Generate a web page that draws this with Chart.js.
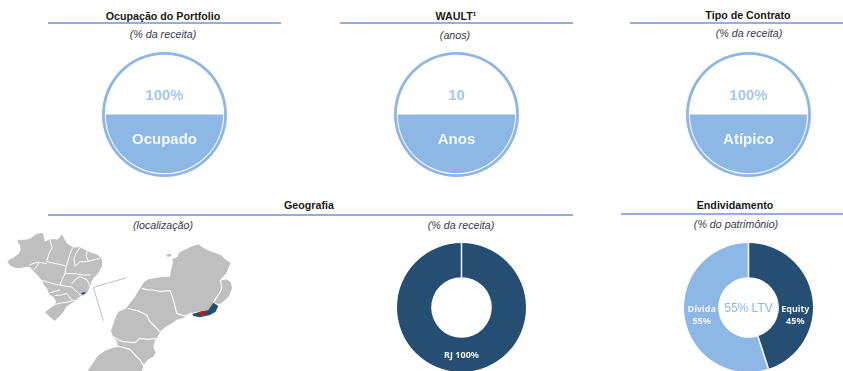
<!DOCTYPE html>
<html lang="pt-BR">
<head>
<meta charset="utf-8">
<title>Portfolio</title>
<script src="https://cdn.jsdelivr.net/npm/chart.js@4"></script>
<style>
html, body { margin: 0; padding: 0; background: #fff; }
body { position: relative; width: 843px; height: 371px; overflow: hidden; font-family: "Liberation Sans", Arial, sans-serif; filter: blur(0.35px); }
.title, .sub { position: absolute; transform: translate(-50%, -50%); white-space: nowrap; }
.title { font-size: 10.7px; font-weight: bold; color: #1a1a1a; }
.sub { font-size: 10.7px; font-style: italic; color: #3a3a48; }
.rule { position: absolute; height: 1.5px; background: #96aede; }
canvas { position: absolute; }
svg { position: absolute; left: 0; top: 0; }
</style>
</head>
<body>
<div class="title" style="left:163px;top:15.5px">Ocupação do Portfolio</div>
<div class="title" style="left:456px;top:15.5px">WAULT¹</div>
<div class="title" style="left:748px;top:14.5px">Tipo de Contrato</div>
<div class="title" style="left:309px;top:205px">Geografia</div>
<div class="title" style="left:735px;top:205px">Endividamento</div>

<div class="rule" style="left:48px;width:233px;top:22px"></div>
<div class="rule" style="left:340px;width:233px;top:22px"></div>
<div class="rule" style="left:630px;width:213px;top:22px"></div>
<div class="rule" style="left:48px;width:525px;top:214px"></div>
<div class="rule" style="left:621px;width:222px;top:213px"></div>

<div class="sub" style="left:163px;top:33.5px">(% da receita)</div>
<div class="sub" style="left:455px;top:34.5px">(anos)</div>
<div class="sub" style="left:749px;top:33px">(% da receita)</div>
<div class="sub" style="left:163px;top:224.5px">(localização)</div>
<div class="sub" style="left:461px;top:224.5px">(% da receita)</div>
<div class="sub" style="left:736px;top:223.5px">(% do patrimônio)</div>

<!-- brazil map, traced by eye -->
<svg width="843" height="371">
  <g transform="translate(0,225) scale(0.3333)">
    <polygon fill="#bfbfbf" points="22,112 28,104 40,98 48,92 56,86 62,74 60,60 52,50 56,44 72,44 88,42 100,34 112,26 128,24 132,36 134,50 146,44 160,42 172,44 180,36 186,28 192,40 200,54 212,62 222,68 238,66 250,72 262,78 276,84 290,88 300,96 306,106 306,122 300,136 290,150 280,160 274,172 270,186 262,202 250,210 238,216 228,226 212,236 200,244 194,254 186,266 174,278 164,288 150,276 135,262 150,250 165,240 168,228 160,216 146,208 142,192 132,180 125,166 112,150 100,138 90,126 76,126 60,130 46,128 32,122"/>
    <g fill="none" stroke="#fff" stroke-width="3" stroke-linejoin="round">
      <polyline points="88,120 104,114 118,112 140,116"/>
      <polyline points="150,44 156,68 146,88 140,110 168,116 195,122"/>
      <polyline points="218,68 210,86 205,104 198,126 195,146 186,164 180,180 160,176 145,172 125,166"/>
      <polyline points="100,136 110,124 118,112"/>
      <polyline points="225,124 240,110 262,110 282,104 300,100"/>
      <polyline points="262,78 258,92 265,108"/>
      <polyline points="240,68 228,84 222,100 225,124"/>
      <polyline points="195,146 225,146 250,150 272,150"/>
      <polyline points="215,176 228,162 240,155 262,165 270,185"/>
      <polyline points="180,180 198,184 215,186 228,198 240,210"/>
      <polyline points="145,205 162,200 180,195"/>
      <polyline points="165,212 184,210 200,205 215,225"/>
      <polyline points="165,238 184,234 200,232 225,225"/>
      <polyline points="240,210 258,205"/>
    </g>
    <polygon fill="#264e73" points="243,205 255,200 257,206 246,210"/>
  </g>
  <g transform="translate(85,240) scale(0.3333)">
    <polyline fill="none" stroke="#c0c0c0" stroke-width="3" points="125,113 25,142 55,242"/>
    <polygon fill="#bfbfbf" points="8,393 22,372 38,348 60,332 80,325 98,320 96,305 84,290 78,272 84,255 92,232 100,215 122,206 135,190 150,170 165,145 178,125 190,118 225,112 255,110 258,90 264,68 262,58 278,50 282,38 298,30 318,20 340,13 352,22 372,32 390,38 408,46 424,60 437,68 430,85 424,100 410,115 405,122 425,118 438,128 441,145 432,168 418,182 404,192 388,190 372,210 350,214 330,216 312,224 295,234 275,240 258,252 240,262 226,274 218,290 210,302 205,320 212,338 205,350 190,358 178,372 170,393"/>
    <polygon fill="#bfbfbf" points="245,43 257,41 259,49 247,50"/>
    <g fill="none" stroke="#fff" stroke-width="3.5" stroke-linejoin="round">
      <polyline points="170,145 190,150 205,150 225,155 255,152 262,170 268,190 272,208 275,220 300,228 320,218"/>
      <polyline points="405,120 410,135 408,152 396,170 385,188"/>
      <polyline points="128,205 160,213 185,225 195,245 205,255 225,275"/>
      <polyline points="85,290 100,300 115,305 150,308 165,295 190,298 215,295"/>
      <polyline points="95,318 115,322 135,328 150,345 165,360 178,380"/>
    </g>
    <polygon fill="#264e73" points="322,222 345,215 370,210 385,188 400,198 392,215 375,225 345,232 325,228"/>
    <circle cx="352" cy="220" r="7" fill="#f00"/>
  </g>
</svg>

<canvas id="gaugeOcupacao" width="125" height="125" style="left:102px;top:52px"></canvas>
<canvas id="gaugeWault" width="125" height="125" style="left:394px;top:52px"></canvas>
<canvas id="gaugeContrato" width="125" height="125" style="left:686px;top:52px"></canvas>
<canvas id="donutGeografia" width="129" height="129" style="left:397px;top:242.5px"></canvas>
<canvas id="donutDivida" width="129" height="129" style="left:684px;top:242.5px"></canvas>

<script>
const lightBlue = '#8db8e6';
const darkBlue = '#264e73';

const gaugeIds = ['gaugeOcupacao', 'gaugeWault', 'gaugeContrato'];
const gaugeValues = [100, 10, 100];
const gaugeTexts = ['100%', '10', '100%'];
const gaugeNames = ['Ocupado', 'Anos', 'Atípico'];

const geoLabels = ['RJ'];
const geoValues = [100];

const debtLabels = ['Equity', 'Dívida'];
const debtValues = [45, 55];
const debtCenter = '55% LTV';

// circle with the lower half filled in, text on both halves
const gaugePlugin = {
    id: 'gaugeFill',
    afterDatasetsDraw(chart, args, opts) {
        const arc = chart.getDatasetMeta(0).data[0];
        const ctx = chart.ctx;
        ctx.save();
        ctx.beginPath();
        ctx.arc(arc.x, arc.y, arc.innerRadius - 1, 0, Math.PI);
        ctx.closePath();
        ctx.fillStyle = lightBlue;
        ctx.fill();
        ctx.textAlign = 'center';
        ctx.textBaseline = 'middle';
        ctx.font = 'bold 15px "Liberation Sans"';
        ctx.fillStyle = '#a6c8ec';
        ctx.fillText(opts.text, arc.x, arc.y - 19);
        ctx.fillStyle = '#f4f8fc';
        ctx.fillText(opts.name, arc.x, arc.y + 25);
        ctx.restore();
    }
};

// white seam at the start of every slice
const seamPlugin = {
    id: 'seams',
    afterDatasetsDraw(chart) {
        const ctx = chart.ctx;
        ctx.save();
        ctx.strokeStyle = '#fff';
        ctx.lineWidth = 1.5;
        chart.getDatasetMeta(0).data.forEach(arc => {
            ctx.beginPath();
            ctx.moveTo(arc.x + Math.cos(arc.startAngle) * arc.innerRadius, arc.y + Math.sin(arc.startAngle) * arc.innerRadius);
            ctx.lineTo(arc.x + Math.cos(arc.startAngle) * arc.outerRadius, arc.y + Math.sin(arc.startAngle) * arc.outerRadius);
            ctx.stroke();
        });
        ctx.restore();
    }
};

const donutLabels = {
    id: 'donutLabels',
    afterDatasetsDraw(chart, args, opts) {
        const ctx = chart.ctx;
        const arcs = chart.getDatasetMeta(0).data;
        ctx.save();
        ctx.textAlign = 'center';
        ctx.textBaseline = 'middle';
        ctx.fillStyle = '#eef3f9';
        ctx.font = 'bold 9px "Noto Sans"';
        arcs.forEach((arc, i) => {
            const p = arc.getCenterPoint();
            const label = chart.data.labels[i];
            const value = chart.data.datasets[0].data[i] + '%';
            if (opts.twoLines) {
                ctx.fillText(label, p.x, arc.y + 2);
                ctx.fillText(value, p.x, arc.y + 14);
            } else {
                ctx.fillText(label + ' ' + value, p.x, p.y + 1);
            }
        });
        if (opts.center) {
            ctx.font = '12px "Liberation Sans"';
            ctx.fillStyle = lightBlue;
            ctx.fillText(opts.center, arcs[0].x, arcs[0].y + 1.5);
        }
        ctx.restore();
    }
};

const baseOptions = {
    responsive: false,
    animation: false,
    events: [],
    layout: { padding: 0 }
};

gaugeIds.forEach((id, i) => {
    new Chart(document.getElementById(id), {
        type: 'doughnut',
        data: {
            labels: [gaugeNames[i]],
            datasets: [{ data: [gaugeValues[i]], backgroundColor: lightBlue, borderWidth: 0 }]
        },
        options: {
            ...baseOptions,
            cutout: '95.5%',
            plugins: {
                legend: { display: false },
                tooltip: { enabled: false },
                gaugeFill: { text: gaugeTexts[i], name: gaugeNames[i] }
            }
        },
        plugins: [gaugePlugin]
    });
});

new Chart(document.getElementById('donutGeografia'), {
    type: 'doughnut',
    data: {
        labels: geoLabels,
        datasets: [{ data: geoValues, backgroundColor: [darkBlue], borderWidth: 0 }]
    },
    options: {
        ...baseOptions,
        cutout: '47%',
        plugins: {
            legend: { display: false },
            tooltip: { enabled: false },
            donutLabels: {}
        }
    },
    plugins: [seamPlugin, donutLabels]
});

new Chart(document.getElementById('donutDivida'), {
    type: 'doughnut',
    data: {
        labels: debtLabels,
        datasets: [{ data: debtValues, backgroundColor: [darkBlue, lightBlue], borderWidth: 0 }]
    },
    options: {
        ...baseOptions,
        cutout: '47%',
        plugins: {
            legend: { display: false },
            tooltip: { enabled: false },
            donutLabels: { twoLines: true, center: debtCenter }
        }
    },
    plugins: [seamPlugin, donutLabels]
});
</script>
</body>
</html>
